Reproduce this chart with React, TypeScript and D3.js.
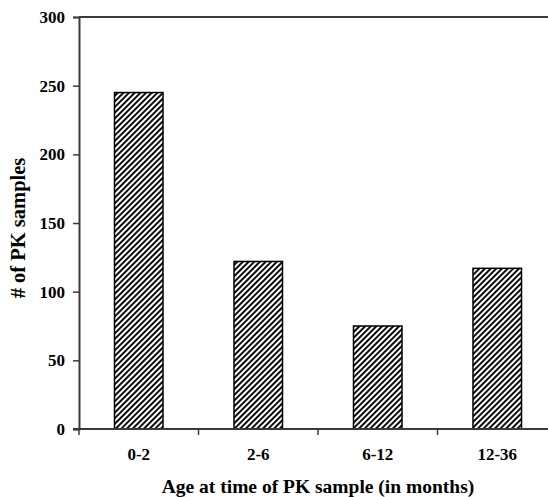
import { useEffect, useRef } from "react";
import * as d3 from "d3";

const categories = ["0-2", "2-6", "6-12", "12-36"];
const samples = [245, 122, 75, 117];
const yTicks = [0, 50, 100, 150, 200, 250, 300];

const W = 548, H = 497;
const m = { top: 17, right: -9, bottom: 68, left: 79 };
const FONT = "'Liberation Serif', 'Times New Roman', serif";
const AXIS = "#3a3a3a";

export default function App() {
  const ref = useRef<SVGSVGElement>(null);

  useEffect(() => {
    if (!ref.current) return;
    const svg = d3.select(ref.current);
    svg.selectAll("*").remove();

    const iW = W - m.left - m.right;
    const iH = H - m.top - m.bottom;

    const defs = svg.append("defs");
    const pat = defs.append("pattern")
      .attr("id", "hatch")
      .attr("patternUnits", "userSpaceOnUse")
      .attr("width", 4).attr("height", 10)
      .attr("patternTransform", "rotate(45)");
    pat.append("rect").attr("width", 4).attr("height", 10).attr("fill", "#fff");
    pat.append("line")
      .attr("x1", 1).attr("x2", 1).attr("y1", 0).attr("y2", 10)
      .attr("stroke", "#000").attr("stroke-width", 1.9);

    const x = d3.scaleBand<string>().domain(categories).range([0, iW]).paddingInner(0.594).paddingOuter(0.297);
    const y = d3.scaleLinear().domain([0, 300]).range([iH, 0]);

    const g = svg.append("g").attr("transform", `translate(${m.left},${m.top})`);

    // top frame line
    g.append("line")
      .attr("x1", 0).attr("x2", iW).attr("y1", 0).attr("y2", 0)
      .attr("stroke", AXIS).attr("stroke-width", 2);

    // bars
    g.selectAll("rect.bar")
      .data(samples)
      .enter().append("rect")
      .attr("class", "bar")
      .attr("x", (_, i) => x(categories[i])!)
      .attr("y", d => y(d))
      .attr("width", x.bandwidth())
      .attr("height", d => iH - y(d))
      .attr("fill", "url(#hatch)")
      .attr("stroke", "#000")
      .attr("stroke-width", 1.5);

    // y axis
    g.append("g")
      .call(d3.axisLeft(y).tickValues(yTicks).tickSize(6).tickPadding(8).tickFormat(d3.format("d")))
      .call(a => a.select(".domain").attr("stroke", AXIS).attr("stroke-width", 2))
      .call(a => a.selectAll(".tick line").attr("stroke", AXIS).attr("stroke-width", 1.5))
      .call(a => a.selectAll(".tick text")
        .attr("fill", "#000").attr("font-size", "17px").attr("font-weight", "bold").attr("font-family", FONT));

    // x axis: ticks at category boundaries
    const xa = g.append("g").attr("transform", `translate(0,${iH})`);
    xa.append("line")
      .attr("x1", -6).attr("x2", iW).attr("y1", 0).attr("y2", 0)
      .attr("stroke", AXIS).attr("stroke-width", 2);
    const bounds = categories.map((c) => x(c)! - (x.step() - x.bandwidth()) / 2);
    xa.selectAll("line.tk")
      .data(bounds)
      .enter().append("line")
      .attr("class", "tk")
      .attr("x1", d => d).attr("x2", d => d)
      .attr("y1", 0).attr("y2", 6)
      .attr("stroke", AXIS).attr("stroke-width", 1.5);
    xa.selectAll("text.xl")
      .data(categories)
      .enter().append("text")
      .attr("class", "xl")
      .attr("x", d => x(d)! + x.bandwidth() / 2)
      .attr("y", 31)
      .attr("text-anchor", "middle")
      .attr("font-size", "17px").attr("font-weight", "bold").attr("font-family", FONT)
      .text(d => d);

    // axis titles
    svg.append("text")
      .attr("x", m.left + iW / 2)
      .attr("y", 493)
      .attr("text-anchor", "middle")
      .attr("font-size", "19.5px").attr("font-weight", "bold").attr("font-family", FONT)
      .text("Age at time of PK sample (in months)");

    svg.append("text")
      .attr("transform", `translate(25,${228}) rotate(-90)`)
      .attr("text-anchor", "middle")
      .attr("font-size", "20.5px").attr("font-weight", "bold").attr("font-family", FONT)
      .text("# of PK samples");
  }, []);

  return (
    <svg ref={ref} width={W} height={H} viewBox={`0 0 ${W} ${H}`}
      style={{ position: "absolute", left: 0, top: 0, background: "#fff", overflow: "hidden" }} />
  );
}
